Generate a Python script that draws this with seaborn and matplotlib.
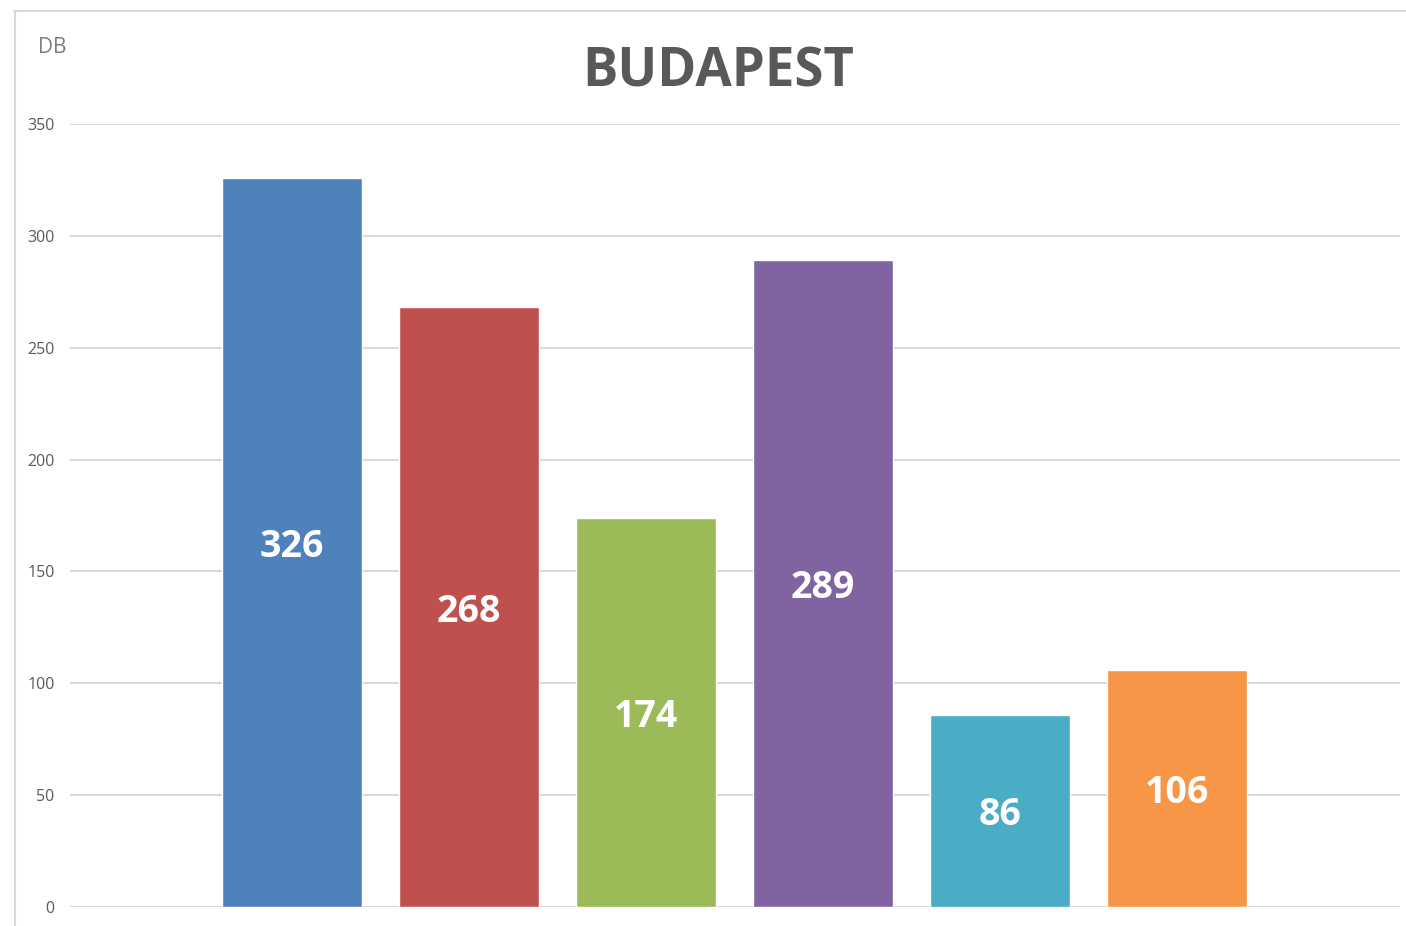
import matplotlib
matplotlib.use("Agg")
import matplotlib.pyplot as plt
import seaborn as sns
import pandas as pd
from matplotlib.lines import Line2D

# adatok
kategoriak = ["1", "2", "3", "4", "5", "6"]
ertekek = [326, 268, 174, 289, 86, 106]
szinek = ["#4F81BD", "#C0504D", "#9BBB59", "#8064A2", "#4BACC6", "#F79646"]
y_tickek = [0, 50, 100, 150, 200, 250, 300, 350]
cim = "BUDAPEST"
y_cimke = "DB"

sns.set_style("white")
plt.rcParams['font.family'] = ['Open Sans', 'DejaVu Sans']

df = pd.DataFrame({"kat": kategoriak, "db": ertekek})

W, H = 1406, 926
fig = plt.figure(figsize=(W / 100, H / 100), dpi=100)
ax = fig.add_axes([70 / W, (H - 907) / H, (1400 - 70) / W, (907 - 124) / H])

sns.barplot(data=df, x="kat", y="db", hue="kat", palette=szinek,
            width=0.79, legend=False, ax=ax, saturation=1, zorder=3)

ax.set_xlim(-1.254, 6.26)
ax.set_ylim(0, 350)
ax.set_yticks(y_tickek)
ax.set_yticklabels([str(t) for t in y_tickek], color="#595959", fontsize=11.5)
ax.tick_params(axis="y", length=0, pad=11)
ax.set_xticks([])
ax.set_xlabel("")
ax.set_ylabel("")
for s in ax.spines.values():
    s.set_visible(False)
for t in y_tickek:
    ax.axhline(t, color="#d9d9d9", lw=1.5, zorder=1)

# értékek a oszlopok közepén
for i, v in enumerate(ertekek):
    ax.text(i, v / 2, str(v), ha="center", va="center_baseline", color="white",
            fontsize=27, fontweight="bold", zorder=4)

fig.text(718 / W, 1 - 66 / H, cim, ha="center", va="center_baseline",
         fontsize=38, fontweight="bold", color="#595959")
fig.text(52 / W, 1 - 45 / H, y_cimke, ha="center", va="center_baseline",
         fontsize=15, color="#7f7f7f")

# keret
fig.add_artist(Line2D([14 / W, 1], [1 - 10.5 / H, 1 - 10.5 / H],
                      color="#d9d9d9", lw=1.5, transform=fig.transFigure))
fig.add_artist(Line2D([14.5 / W, 14.5 / W], [0, 1 - 10.5 / H],
                      color="#d9d9d9", lw=1.5, transform=fig.transFigure))

fig.savefig("out.png", dpi=100)
